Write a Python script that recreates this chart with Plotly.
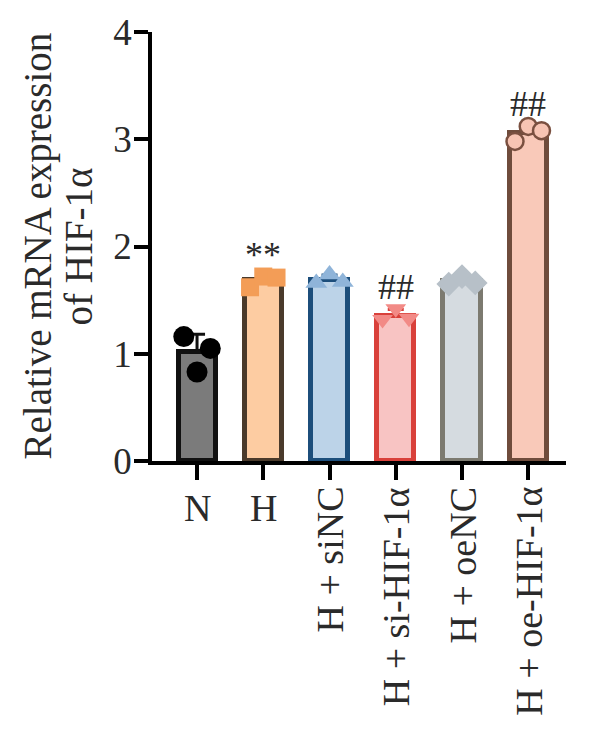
import plotly.graph_objects as go
import numpy as np

categories = ["N", "H", "H + siNC", "H + si-HIF-1α", "H + oeNC", "H + oe-HIF-1α"]
replicates = [
    [1.16, 0.83, 1.05],
    [1.62, 1.72, 1.71],
    [1.66, 1.74, 1.67],
    [1.32, 1.42, 1.33],
    [1.65, 1.72, 1.66],
    [2.98, 3.12, 3.08],
]
significance = ["", "**", "", "##", "", "##"]
y_ticks = [0, 1, 2, 3, 4]
y_title_lines = ["Relative mRNA expression", "of HIF-1α"]

# styles
fills = ["#7b7b7b", "#fdcca2", "#bcd3e8", "#f8c4c3", "#d5dbe0", "#f9c9b9"]
lines = ["#111111", "#4a3a2b", "#1c4e7b", "#d9403a", "#7c7a70", "#6f4c3c"]
mcols = ["#000000", "#f39d57", "#8fb4d9", "#f28a86", "#b7c0c8", "#f7c4b3"]
mline = ["#000000", "#f39d57", "#8fb4d9", "#f28a86", "#b7c0c8", "#7a5040"]
msyms = ["circle", "square", "triangle-up", "triangle-down", "diamond", "circle"]
msize = [21, 18, 19, 18, 19, 17]
jitter = [-0.2, 0.0, 0.2]
FONT = "Liberation Serif"
TXT = "#2a2a2a"

means = [float(np.mean(r)) for r in replicates]
sds = [float(np.std(r, ddof=1)) for r in replicates]
xs = list(range(len(categories)))

fig = go.Figure()
for i in xs:
    fig.add_trace(go.Bar(
        x=[i], y=[means[i]], width=0.56,
        marker=dict(color=fills[i], line=dict(color=lines[i], width=5)),
        error_y=dict(type="data", array=[sds[i]], arrayminus=[0], symmetric=False,
                     color=lines[i], thickness=3, width=8),
        showlegend=False, hoverinfo="skip",
    ))
for i in xs:
    fig.add_trace(go.Scatter(
        x=[i + j for j in jitter], y=replicates[i], mode="markers",
        marker=dict(symbol=msyms[i], size=msize[i], color=mcols[i],
                    line=dict(color=mline[i], width=2.5 if i == 5 else 0)),
        showlegend=False, hoverinfo="skip", cliponaxis=False,
    ))

annotations = []
for i, s in enumerate(significance):
    if s:
        annotations.append(dict(x=i, y=max(replicates[i]), xref="x", yref="y", text=s,
                                showarrow=False, yanchor="bottom", yshift=0,
                                font=dict(family=FONT, size=36, color=TXT)))
for i, c in enumerate(categories):
    rot = 0 if len(c) < 3 else -90
    annotations.append(dict(x=i, y=0, xref="x", yref="paper", text=c, showarrow=False,
                            textangle=rot, xanchor="center", yanchor="top", yshift=-24,
                            font=dict(family=FONT, size=38, color=TXT)))
for k, (t, sh) in enumerate(zip(y_title_lines, [-115, -74])):
    annotations.append(dict(x=0, y=0.5, xref="paper", yref="paper", text=t, showarrow=False,
                            textangle=-90, xanchor="center", yanchor="middle", xshift=sh,
                            font=dict(family=FONT, size=39, color=TXT)))

fig.update_layout(
    width=600, height=741,
    margin=dict(l=152, r=34, t=32, b=280),
    plot_bgcolor="white", paper_bgcolor="white",
    bargap=0, barmode="overlay",
    annotations=annotations,
    xaxis=dict(range=[-0.68, 5.57], tickvals=xs, ticktext=[""] * len(xs),
               showline=True, linecolor="black", linewidth=3.5,
               ticks="outside", ticklen=15, tickwidth=3.5, tickcolor="black",
               showgrid=False, zeroline=False, fixedrange=True),
    yaxis=dict(range=[0, 4], tickvals=y_ticks, showline=True, linecolor="black", linewidth=3.5,
               ticks="outside", ticklen=14, tickwidth=3.5, tickcolor="black",
               tickfont=dict(family=FONT, size=37, color=TXT), ticklabelstandoff=-5,
               showgrid=False, zeroline=False, fixedrange=True),
)
fig.write_html("out.html")
